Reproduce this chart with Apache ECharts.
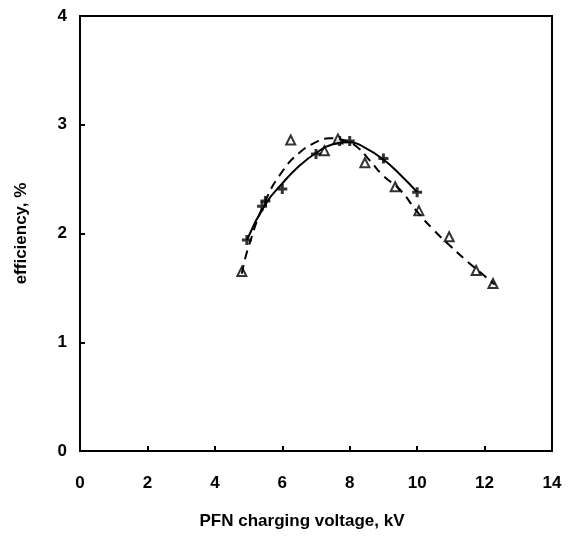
<!DOCTYPE html>
<html><head><meta charset="utf-8">
<script src="https://cdn.jsdelivr.net/npm/echarts@6/dist/echarts.min.js"></script>
<style>html,body{margin:0;padding:0;background:#fff}#c{width:568px;height:542px}</style>
</head><body><div id="c"></div>
<script>
// measured points: crosses (solid curve set)
const crossX = [4.95, 5.4, 5.5, 6.0, 7.0, 7.7, 8.0, 9.0, 10.0];
const crossY = [1.94, 2.25, 2.3, 2.41, 2.73, 2.85, 2.85, 2.69, 2.38];
// measured points: open triangles (dashed curve set)
const triX = [4.8, 6.25, 7.25, 7.65, 8.45, 9.35, 10.05, 10.95, 11.75, 12.25];
const triY = [1.65, 2.86, 2.76, 2.87, 2.65, 2.43, 2.21, 1.97, 1.66, 1.54];
// fitted curves
const solidX = [4.95, 5.5, 6.0, 6.5, 7.0, 7.5, 8.0, 8.5, 9.0, 9.5, 10.0];
const solidY = [1.94, 2.27, 2.46, 2.62, 2.74, 2.82, 2.84, 2.78, 2.68, 2.54, 2.38];
const dashX = [4.8, 5.0, 5.5, 6.0, 6.5, 7.0, 7.4, 7.8, 8.2, 8.6, 9.0, 9.5, 10.0, 10.5, 11.0, 11.5, 12.0, 12.3];
const dashY = [1.63, 1.88, 2.3, 2.57, 2.74, 2.84, 2.875, 2.86, 2.8, 2.67, 2.53, 2.4, 2.2, 2.03, 1.88, 1.74, 1.61, 1.53];
const xTicks = [0, 2, 4, 6, 8, 10, 12, 14];
const yTicks = [0, 1, 2, 3, 4];

const zip = (a, b) => a.map((v, i) => [v, b[i]]);
const font = {fontFamily: 'Liberation Sans', fontWeight: 'bold', fontSize: 17, color: '#000'};
const chart = echarts.init(document.getElementById('c'));
chart.setOption({
  animation: false,
  backgroundColor: '#fff',
  grid: {left: 80, right: 16, top: 16, bottom: 91, show: true, borderColor: '#000', borderWidth: 2},
  xAxis: {
    type: 'value', min: xTicks[0], max: xTicks[xTicks.length - 1], interval: 2,
    name: 'PFN charging voltage, kV', nameLocation: 'middle', nameGap: 62,
    nameTextStyle: Object.assign({}, font, {fontSize: 17, padding: [0, 28, 0, 0]}),
    axisLine: {lineStyle: {color: '#000', width: 2}},
    axisTick: {inside: true, length: 5, lineStyle: {color: '#000', width: 2}},
    axisLabel: Object.assign({margin: 24}, font),
    splitLine: {show: false}
  },
  yAxis: {
    type: 'value', min: yTicks[0], max: yTicks[yTicks.length - 1], interval: 1,
    name: 'efficiency, %', nameLocation: 'middle', nameGap: 50,
    nameTextStyle: Object.assign({}, font, {fontSize: 17}),
    axisLine: {lineStyle: {color: '#000', width: 2}},
    axisTick: {inside: true, length: 5, lineStyle: {color: '#000', width: 2}},
    axisLabel: Object.assign({margin: 13}, font),
    splitLine: {show: false}
  },
  series: [
    {type: 'line', data: zip(solidX, solidY), smooth: 0.5, symbol: 'none',
     lineStyle: {color: '#000', width: 2}},
    {type: 'line', data: zip(dashX, dashY), smooth: 0.5, symbol: 'none',
     lineStyle: {color: '#000', width: 2, type: [9, 6]}},
    {type: 'scatter', data: zip(crossX, crossY),
     symbol: 'path://M3.5,0H6.5V3.5H10V6.5H6.5V10H3.5V6.5H0V3.5H3.5Z', symbolSize: 10,
     itemStyle: {color: '#000'}},
    {type: 'scatter', data: zip(triX, triY), symbol: 'triangle', symbolSize: 9,
     itemStyle: {color: '#fff', borderColor: '#000', borderWidth: 2}}
  ]
});
</script></body></html>
